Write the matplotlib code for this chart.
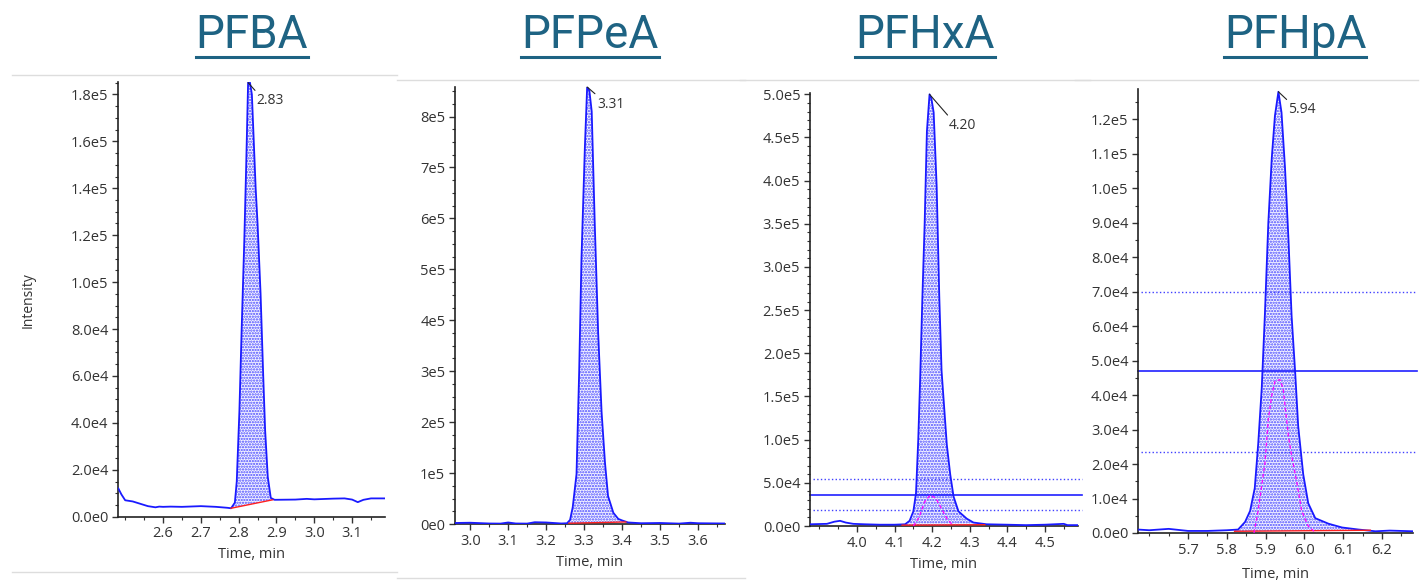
import matplotlib
matplotlib.use('Agg')
import matplotlib.pyplot as plt
import numpy as np
from matplotlib.lines import Line2D
from matplotlib.ticker import FuncFormatter, MultipleLocator, AutoMinorLocator

plt.rcParams['font.family'] = ['Open Sans', 'DejaVu Sans']
plt.rcParams['hatch.linewidth'] = 1.1

names = ['PFBA', 'PFPeA', 'PFHxA', 'PFHpA']
rt_labels = ['2.83', '3.31', '4.20', '5.94']

# quantifier traces (time, intensity)
pfba_t = [2.482, 2.490, 2.500, 2.520, 2.540, 2.560, 2.580, 2.590, 2.600, 2.620, 2.650, 2.700,
          2.740, 2.770, 2.780, 2.790, 2.795, 2.802, 2.808, 2.815, 2.820, 2.825, 2.830, 2.835,
          2.840, 2.845, 2.850, 2.858, 2.865, 2.870, 2.877, 2.885, 2.895, 2.950, 2.980, 3.000,
          3.050, 3.080, 3.100, 3.115, 3.130, 3.150, 3.187]
pfba_y = [12000, 9500, 7000, 6500, 5500, 4500, 4000, 4300, 4200, 4300, 4200, 4500,
          4200, 3800, 3600, 6000, 15000, 45000, 80000, 118000, 150000, 185000, 185000, 180000,
          160000, 140000, 125000, 95000, 60000, 37000, 17000, 8000, 7200, 7300, 7600, 7400,
          7700, 7800, 7300, 6200, 7200, 7800, 7800]

pfpea_t = [2.960, 3.000, 3.050, 3.080, 3.100, 3.120, 3.150, 3.170, 3.200, 3.240, 3.255, 3.263,
           3.270, 3.280, 3.287, 3.293, 3.302, 3.308, 3.314, 3.320, 3.328, 3.337, 3.346, 3.355,
           3.363, 3.377, 3.390, 3.400, 3.416, 3.450, 3.500, 3.550, 3.580, 3.600, 3.671]
pfpea_y = [2000, 2500, 1000, 800, 3000, 1000, 800, 3500, 3000, 1000, 1500, 8000,
           33000, 98000, 300000, 520000, 740000, 858000, 850000, 810000, 590000, 375000, 220000, 120000,
           55000, 22000, 10000, 7000, 3000, 1500, 2000, 800, 2500, 1500, 1000]

pfhxa_t = [3.875, 3.920, 3.940, 3.955, 3.970, 3.990, 4.020, 4.060, 4.100, 4.128, 4.140, 4.150,
           4.157, 4.163, 4.168, 4.174, 4.180, 4.186, 4.193, 4.198, 4.204, 4.212, 4.219, 4.225,
           4.232, 4.239, 4.248, 4.257, 4.270, 4.292, 4.310, 4.345, 4.400, 4.450, 4.500, 4.550,
           4.560, 4.588]
pfhxa_y = [2000, 2500, 5000, 6000, 4000, 2500, 2000, 1500, 1500, 2000, 6000, 17000,
           38000, 100000, 170000, 265000, 350000, 457000, 500000, 495000, 479000, 393000, 265000, 180000,
           137000, 94000, 60000, 34000, 17000, 8500, 4000, 2000, 1500, 1000, 1500, 2500,
           1000, 1000]

pfhpa_t = [5.571, 5.600, 5.650, 5.700, 5.750, 5.800, 5.829, 5.847, 5.860, 5.872, 5.881, 5.890,
           5.898, 5.907, 5.916, 5.924, 5.933, 5.941, 5.950, 5.959, 5.967, 5.976, 5.984, 5.997,
           6.010, 6.028, 6.062, 6.097, 6.140, 6.183, 6.220, 6.280]
pfhpa_y = [1000, 800, 1200, 600, 600, 800, 1000, 3200, 6400, 13000, 26000, 42000,
           63000, 90000, 109000, 121000, 128000, 122000, 106000, 85000, 63000, 47000, 31000, 17000,
           8600, 4300, 2700, 1600, 1000, 500, 700, 500]

# qualifier traces (magenta)
pfhxa_q_t = [4.150, 4.165, 4.180, 4.195, 4.210, 4.225, 4.240, 4.255]
pfhxa_q_y = [0, 10000, 28000, 36000, 32000, 20000, 8000, 1000]
pfhpa_q_t = [5.870, 5.880, 5.898, 5.907, 5.916, 5.924, 5.937, 5.945, 5.959, 5.967, 5.980, 5.993, 6.010, 6.030]
pfhpa_q_y = [0, 6000, 20000, 33000, 40000, 44000, 44500, 42000, 28000, 22500, 15000, 6400, 2000, 0]

# integration baselines (start, end)
base_t = [(2.780, 2.890), (3.260, 3.410), (4.120, 4.340), (5.820, 6.170)]
base_y = [(3600, 7200), (1500, 4000), (1000, 1500), (500, 800)]

# ion ratio tolerance lines (low, expected, high)
ratio_lines = [None, None, (19000, 36000, 54000), (23500, 46900, 70000)]

traces = [(pfba_t, pfba_y), (pfpea_t, pfpea_y), (pfhxa_t, pfhxa_y), (pfhpa_t, pfhpa_y)]
quals = [None, None, (pfhxa_q_t, pfhxa_q_y), (pfhpa_q_t, pfhpa_q_y)]

xlims = [(2.481, 3.187), (2.96, 3.671), (3.875, 4.588), (5.571, 6.28)]
ylims = [1.855e5, 8.58e5, 5.02e5, 1.288e5]
xticks = [[2.6, 2.7, 2.8, 2.9, 3.0, 3.1], [3.0, 3.1, 3.2, 3.3, 3.4, 3.5, 3.6],
          [4.0, 4.1, 4.2, 4.3, 4.4, 4.5], [5.7, 5.8, 5.9, 6.0, 6.1, 6.2]]
ystep = [2e4, 1e5, 5e4, 1e4]
ydec = [1, 0, 1, 1]
yminor = [4, 4, 5, 2]

# axes boxes in pixels: left, right, top, bottom
boxes = [(118, 385, 81.5, 516.7), (455, 725, 87, 524), (810, 1078, 92.6, 526), (1138, 1413, 89, 533)]
title_x = [252, 590, 925, 1295]
xlabel_y = [555, 562, 564, 574]
label_off = [(8, -18), (10, -17), (19, -31), (10, -18)]

W, H = 1422, 580
fig = plt.figure(figsize=(W / 100, H / 100), dpi=100)

# light frames of the screenshots
for x0, x1, y in [(12, 397, 75), (397, 745, 80), (740, 1090, 80), (1075, 1418, 80),
                  (12, 397, 572), (397, 745, 578)]:
    fig.add_artist(Line2D([x0 / W, x1 / W], [1 - y / H, 1 - y / H], color='#dddddd', lw=1))


def sci_fmt(d):
    def f(v, pos):
        if abs(v) < 1e-9:
            return f"{0:.{d}f}e0"
        e = int(np.floor(np.log10(abs(v)) + 1e-9))
        return f"{v / 10 ** e:.{d}f}e{e}"
    return f


blue = '#1a1aff'
for i in range(4):
    l, r, t, b = boxes[i]
    ax = fig.add_axes([l / W, 1 - b / H, (r - l) / W, (b - t) / H])
    tt, yy = np.array(traces[i][0]), np.array(traces[i][1])

    # peak fill between integration baseline and trace
    bt0, bt1 = base_t[i]
    by0, by1 = base_y[i]
    m = (tt >= bt0) & (tt <= bt1)
    ft = np.concatenate([[bt0], tt[m], [bt1]])
    fy = np.concatenate([[np.interp(bt0, tt, yy)], yy[m], [np.interp(bt1, tt, yy)]])
    fb = np.interp(ft, [bt0, bt1], [by0, by1])
    ax.fill_between(ft, fb, fy, facecolor='#f4f4ff', edgecolor='#4a4aff', hatch='......', linewidth=0)

    ax.plot(tt, yy, color=blue, lw=1.3, zorder=3)
    ax.plot([bt0, bt1], [by0, by1], color='#ff2020', lw=1.0, zorder=4)

    if quals[i] is not None:
        ax.plot(quals[i][0], quals[i][1], color='#ff00ff', lw=0.9, ls=(0, (3, 2)), zorder=4)
    if ratio_lines[i] is not None:
        lo, mid, hi = ratio_lines[i]
        ax.axhline(lo, xmin=0.01, xmax=1.015, color='#4040ff', lw=1.0, ls=':', clip_on=False)
        ax.axhline(mid, xmin=0.0, xmax=1.015, color='#2020ff', lw=1.2, clip_on=False)
        ax.axhline(hi, xmin=0.01, xmax=1.015, color='#4040ff', lw=1.0, ls=':', clip_on=False)

    # retention time label with leader line
    k = int(np.argmax(yy))
    ax.annotate(rt_labels[i], xy=(tt[k], yy[k]), xytext=(label_off[i][0] * 0.72, label_off[i][1] * 0.72),
                textcoords='offset points', fontsize=10, color='#333333', ha='left', va='center',
                arrowprops=dict(arrowstyle='-', color='#222222', lw=0.8, shrinkA=0, shrinkB=0,
                                relpos=(0.1, 0.9)), zorder=5)

    ax.set_xlim(*xlims[i])
    ax.set_ylim(0, ylims[i])
    ax.set_xticks(xticks[i])
    ax.xaxis.set_major_formatter(FuncFormatter(lambda v, p: f"{v:.1f}"))
    ax.xaxis.set_minor_locator(AutoMinorLocator(2))
    ax.yaxis.set_major_locator(MultipleLocator(ystep[i]))
    ax.yaxis.set_minor_locator(AutoMinorLocator(yminor[i]))
    ax.yaxis.set_major_formatter(FuncFormatter(sci_fmt(ydec[i])))
    for s in ['top', 'right']:
        ax.spines[s].set_visible(False)
    for s in ['left', 'bottom']:
        ax.spines[s].set_color('#222222')
        ax.spines[s].set_linewidth(1.2)
    ax.tick_params(which='major', direction='out', length=4, width=1, colors='#333333', labelsize=10.5,
                   pad=3)
    ax.tick_params(which='minor', direction='out', length=2, width=0.8, colors='#333333')

    fig.text((l + r) / 2 / W, 1 - xlabel_y[i] / H, 'Time, min', fontsize=10.5, color='#333333',
             ha='center', va='center')

    # compound title with underline
    tx = fig.text(title_x[i] / W, 1 - 35 / H, names[i], fontsize=33, color='#1e6383',
                  family='Roboto', ha='center', va='center')
    fig.canvas.draw()
    bb = tx.get_window_extent()
    fig.add_artist(Line2D([bb.x0 / W, bb.x1 / W], [1 - 57 / H, 1 - 57 / H], color='#1e6383', lw=2.2))

fig.text(28 / W, 1 - 300 / H, 'Intensity', rotation=90, fontsize=10, color='#333333',
         ha='center', va='center')

fig.savefig('out.png', dpi=100)
